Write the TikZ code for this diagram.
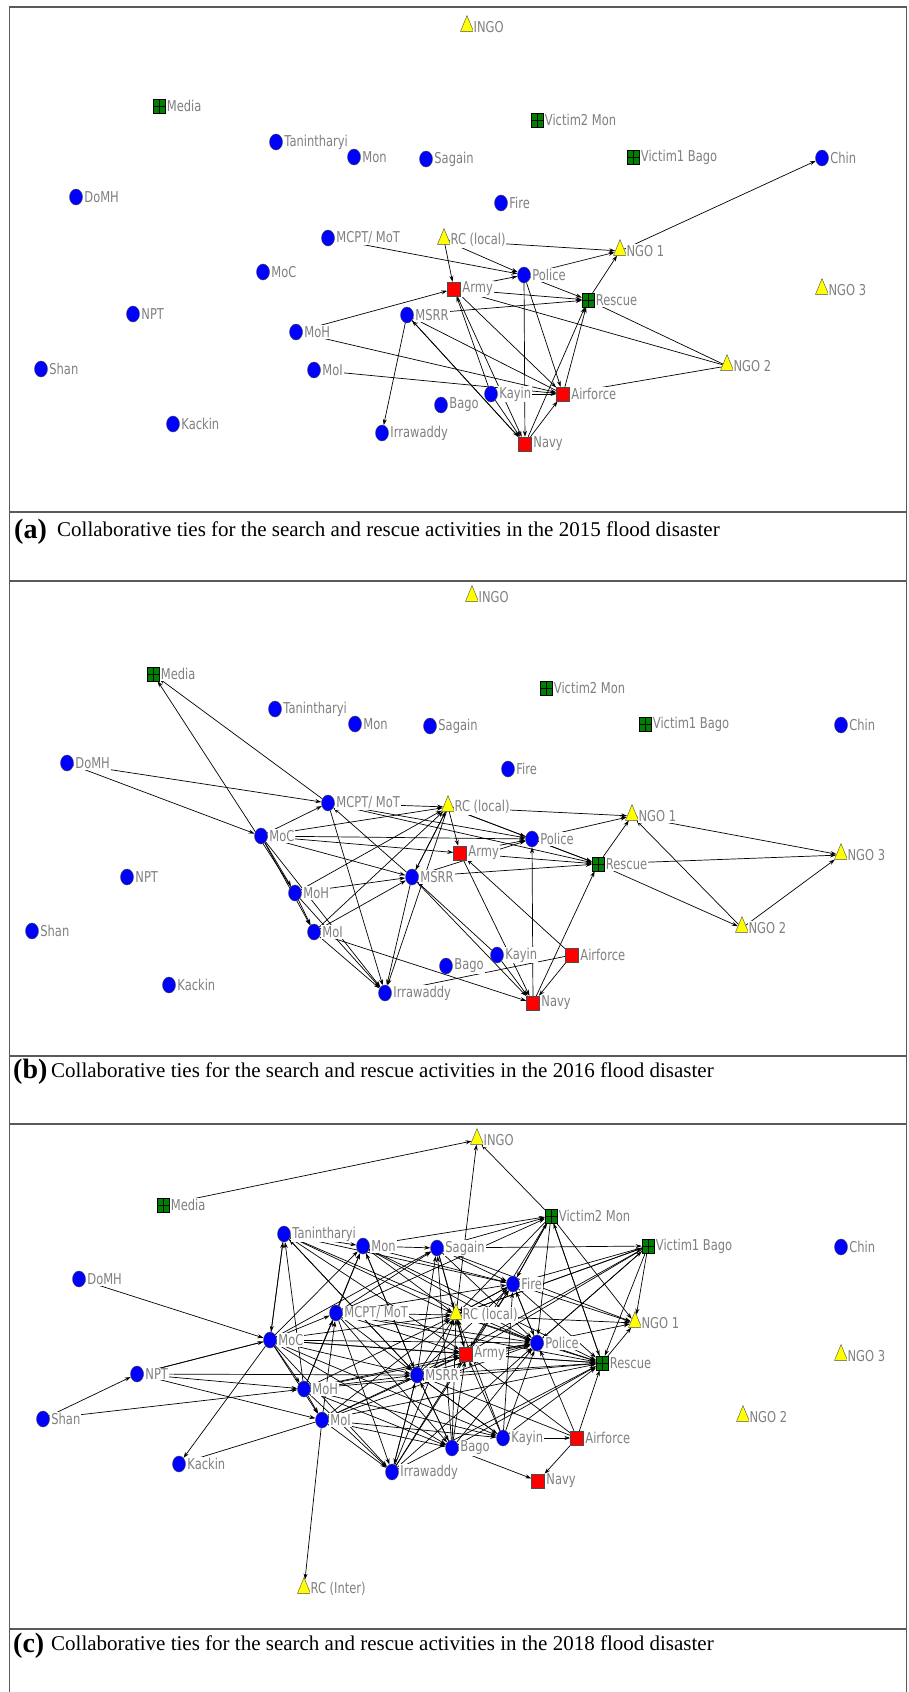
\documentclass[tikz,border=0pt]{standalone}
\usepackage{graphicx}
\usepackage{fontspec}
\setmainfont{Liberation Serif}
\newfontfamily\labfont{DejaVu Sans}
\usetikzlibrary{shapes.geometric,arrows.meta,backgrounds}

\definecolor{netblue}{RGB}{0,0,255}
\definecolor{netred}{RGB}{255,0,0}
\definecolor{netgreen}{RGB}{0,128,0}
\definecolor{netyellow}{RGB}{255,255,0}
\definecolor{labgray}{RGB}{128,128,128}
\definecolor{framegray}{RGB}{90,90,90}

% the labels of the plot are drawn a little taller than wide
\newcommand\labtext[1]{\scalebox{1}[1.3]{#1}}

\tikzset{
  gov/.style={ellipse,draw=black!70,fill=netblue,minimum width=13pt,minimum height=16pt,inner sep=0pt},
  mil/.style={rectangle,draw=black!70,fill=netred,minimum width=13pt,minimum height=14pt,inner sep=0pt},
  vic/.style={rectangle,draw=black,fill=netgreen,minimum width=12pt,minimum height=14pt,inner sep=0pt,
    path picture={\draw[black,line width=0.8pt]
      (path picture bounding box.north) -- (path picture bounding box.south)
      (path picture bounding box.west) -- (path picture bounding box.east);}},
  ngo/.style={isosceles triangle,isosceles triangle apex angle=45,shape border rotate=90,
    draw=black!70,fill=netyellow,minimum size=13pt,inner sep=0pt},
  lab/.style={font=\labfont\fontsize{11.5}{13}\selectfont,text=labgray,fill=white,inner sep=1pt,label distance=0.5pt},
  tie/.style={black,line width=0.7pt,-{Stealth[length=6pt,width=4pt]}},
  frame/.style={framegray,line width=1.2pt},
  capnum/.style={font=\fontsize{28}{30}\selectfont\bfseries,inner sep=0pt,anchor=base west},
  captext/.style={font=\fontsize{21}{24}\selectfont,inner sep=0pt,anchor=base west}
}

\begin{document}
\begin{tikzpicture}[x=1pt,y=-1pt]
  \useasboundingbox (0,0) rectangle (908,1692);

  % frame of the three panels
  \draw[frame] (9.5,1692) -- (9.5,7) -- (906.5,7) -- (906.5,1692);
  \foreach \yy in {512,581,1056,1124,1629}
    \draw[frame] (9.5,\yy) -- (906.5,\yy);

  % actors: name/kind/label/(a)/(b)/(c)
  \foreach \nm/\shp/\lbl/\xa/\ya/\xb/\yb/\xc/\yc in {
    INGO/ngo/INGO/467/27/472/597/477/1140,
    Media/vic/Media/159/106/153/674/163/1205,
    Tan/gov/Tanintharyi/276/142/275/709/284/1234,
    Mon/gov/Mon/354/157/355/724/363/1246,
    Sag/gov/Sagain/426/159/430/726/437/1248,
    Vic2/vic/Victim2 Mon/537/120/546/688/551/1216,
    Vic1/vic/Victim1 Bago/633/157/645/724/648/1246,
    Chin/gov/Chin/822/158/841/725/841/1247,
    DoMH/gov/DoMH/76/197/67/763/79/1279,
    Fire/gov/Fire/501/203/508/769/513/1284,
    MCPT/gov/{MCPT/ MoT}/328/238/328/803/336/1313,
    RCl/ngo/RC (local)/444/240/448/807/456/1315,
    NGOa/ngo/NGO 1/620/251/632/816/635/1323,
    MoC/gov/MoC/263/272/261/836/270/1340,
    Pol/gov/Police/524/275/532/839/537/1343,
    Army/mil/Army/454/289/460/853/466/1354,
    Resc/vic/Rescue/588/300/598/864/602/1363,
    NGOc/ngo/NGO 3/822/290/841/855/841/1356,
    NPT/gov/NPT/133/314/127/877/137/1374,
    MSRR/gov/MSRR/407/315/412/877/417/1375,
    MoH/gov/MoH/296/332/295/893/304/1389,
    Shan/gov/Shan/41/369/32/931/43/1419,
    MoI/gov/MoI/314/370/314/932/322/1420,
    NGOb/ngo/NGO 2/727/366/742/928/743/1417,
    Kay/gov/Kayin/491/394/497/955/503/1438,
    Air/mil/Airforce/563/394/572/955/577/1438,
    Bago/gov/Bago/441/405/446/966/452/1448,
    Kack/gov/Kackin/173/424/169/985/179/1464,
    Irra/gov/Irrawaddy/382/433/385/993/392/1472,
    Navy/mil/Navy/525/444/533/1003/538/1481}{
    \node[\shp,label={[lab]right:{\labtext{\lbl}}}] (a\nm) at (\xa,\ya) {};
    \node[\shp,label={[lab]right:{\labtext{\lbl}}}] (b\nm) at (\xb,\yb) {};
    \node[\shp,label={[lab]right:{\labtext{\lbl}}}] (c\nm) at (\xc,\yc) {};
  }
  \node[ngo,label={[lab]right:{\labtext{RC (Inter)}}}] (cRCi) at (304,1589) {};

  \begin{scope}[on background layer]
    % 2015
    \foreach \u/\v in {NGOa/Chin, RCl/NGOa, Pol/NGOa, Resc/NGOa, RCl/Pol, RCl/Army,
      MCPT/Pol, Army/Pol, Pol/Resc, Army/Resc, MoH/Army, MoH/Air, MoI/Air,
      MSRR/Irra, Navy/MSRR, Air/MSRR, MSRR/Resc, NGOb/Army, NGOb/Resc, NGOb/Air,
      Kay/Air, Kay/Navy, Air/Resc, Navy/Resc, Navy/Air, Pol/Navy, Army/Navy,
      Army/Air, Pol/Air, Kay/Army, MSRR/Navy}
      \draw[tie] (a\u) -- (a\v);
    % 2016
    \foreach \u/\v in {MoH/Media, MCPT/Media, DoMH/MCPT, DoMH/MoC, MoC/MCPT, MCPT/RCl,
      MoC/RCl, MoC/Pol, MoC/Army, MoC/MSRR, MoC/MoH, MoC/MoI, MoC/Irra, MCPT/Pol,
      MCPT/Resc, MCPT/Irra, MSRR/MCPT, MoH/RCl, MoH/MSRR, MoH/Irra, MoH/MoI,
      MoI/RCl, MoI/Irra, MoI/Navy, MoI/MSRR, RCl/NGOa, RCl/Pol, RCl/Army, RCl/Resc,
      RCl/MSRR, RCl/Irra, Pol/NGOa, Pol/Resc, NGOa/NGOc, Resc/NGOc, NGOb/NGOc,
      Resc/NGOb, NGOb/NGOa, Resc/NGOa, Army/Pol, Army/Resc, MSRR/Resc, MSRR/Pol,
      Navy/Pol, Navy/Resc, Air/Army, Air/Navy, Kay/Navy, Air/Irra, MSRR/Irra,
      MSRR/Navy, Army/Navy, Kay/MSRR, MSRR/RCl}
      \draw[tie] (b\u) -- (b\v);
    % 2018
    \foreach \u/\v in {Media/INGO, RCl/INGO, Vic2/INGO, DoMH/MoC, NPT/MoC, MoC/NPT,
      NPT/MoH, NPT/MoI, NPT/MSRR, Shan/NPT, Shan/MoH, MoC/Kack, MoI/Kack, MoI/RCi,
      Bago/Navy, Air/Navy, Kay/Air,
      Tan/MoC, MoC/Tan, Tan/Mon, Tan/Fire, Tan/RCl, Tan/Pol, Tan/MSRR, Tan/Army,
      Mon/Vic2, Mon/Sag, Mon/Fire, Mon/RCl, Mon/Pol, Mon/MSRR, Mon/Resc,
      Sag/Vic1, Sag/Vic2, Sag/Fire, Sag/RCl, Sag/Pol, Sag/Army, Sag/NGOa,
      Vic2/Fire, Vic2/RCl, Vic2/Pol, Vic2/Resc, Vic2/NGOa, Vic2/Army,
      Vic1/Fire, Vic1/RCl, Vic1/Pol, Vic1/Resc, Vic1/NGOa, Vic1/Army, Vic1/MSRR,
      MCPT/Mon, MCPT/Sag, MCPT/RCl, MCPT/Fire, MCPT/Pol, MCPT/MSRR, MCPT/Army,
      MCPT/Resc, MCPT/Irra, MCPT/Bago, MCPT/Vic2,
      MoC/Mon, MoC/Sag, MoC/MCPT, MoC/RCl, MoC/Pol, MoC/Army, MoC/MSRR, MoC/Resc,
      MoC/MoH, MoC/MoI, MoC/Irra, MoC/Bago, MoC/Kay,
      MoH/Tan, MoH/MCPT, MoH/Mon, MoH/RCl, MoH/MSRR, MoH/Army, MoH/Pol, MoH/Resc,
      MoH/MoI, MoH/Irra, MoH/Bago, MoH/Kay,
      MoI/MSRR, MoI/RCl, MoI/Army, MoI/Pol, MoI/Irra, MoI/Bago, MoI/Kay, MoI/Resc, MoI/MCPT,
      MSRR/Tan, MSRR/Sag, MSRR/RCl, MSRR/Fire, MSRR/Pol, MSRR/Army, MSRR/Resc,
      MSRR/Irra, MSRR/Bago, MSRR/Kay, MSRR/Mon,
      Irra/MSRR, Irra/RCl, Irra/Pol, Irra/Army, Irra/Resc, Irra/Fire,
      Bago/MSRR, Bago/RCl, Bago/Pol, Bago/Army, Bago/Resc, Bago/Sag,
      Kay/MSRR, Kay/RCl, Kay/Pol, Kay/Army, Kay/Resc, Kay/Fire,
      RCl/Fire, RCl/Pol, RCl/Army, RCl/NGOa, RCl/Resc, RCl/Vic1,
      Fire/Pol, Fire/NGOa, Fire/Resc, Fire/RCl, Fire/Vic2,
      Pol/NGOa, Pol/Resc, Pol/Army, Pol/Fire, Pol/Vic1,
      Army/Pol, Army/Resc, Army/RCl, Army/Fire, Resc/NGOa, Resc/Vic2,
      Air/Pol, Air/Resc, Air/Army, Air/MSRR}
      \draw[tie] (c\u) -- (c\v);
  \end{scope}

  % captions
  \node[capnum] (numA) at (14,538) {(a)};
  \node[captext] (capA) at (57,536) {Collaborative ties for the search and rescue activities in the 2015 flood disaster};
  \node[capnum] (numB) at (13,1078) {(b)};
  \node[captext] (capB) at (51,1077) {Collaborative ties for the search and rescue activities in the 2016 flood disaster};
  \node[capnum] (numC) at (13,1652) {(c)};
  \node[captext] (capC) at (51,1650) {Collaborative ties for the search and rescue activities in the 2018 flood disaster};
\end{tikzpicture}
\end{document}
